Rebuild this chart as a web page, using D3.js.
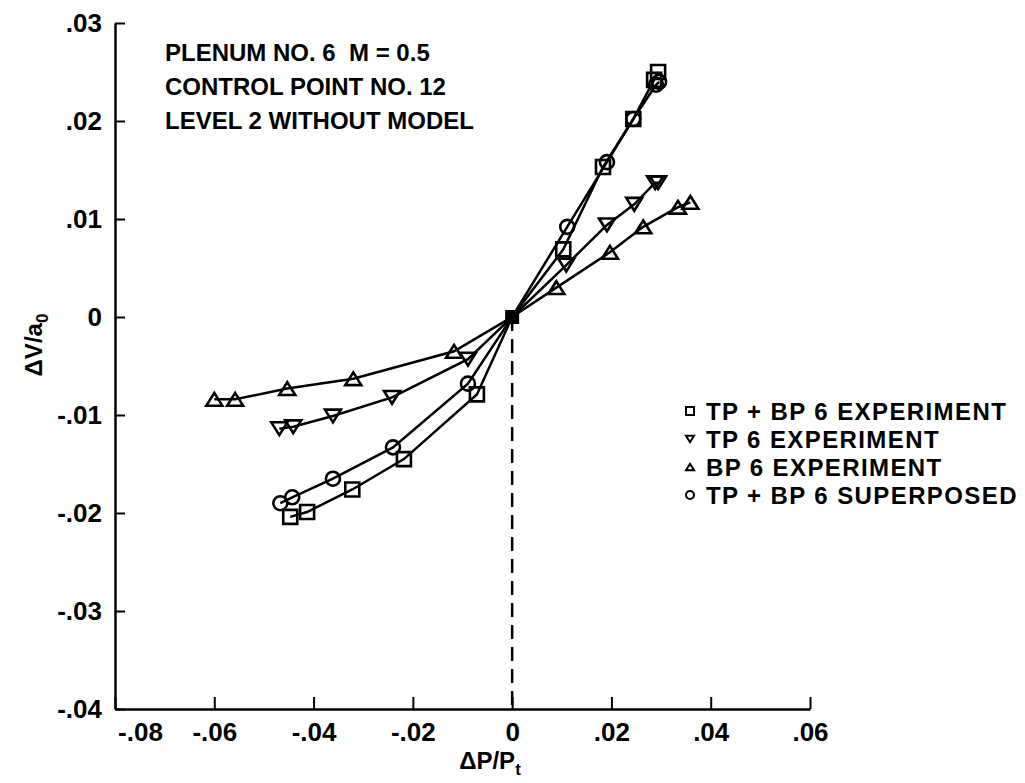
<!DOCTYPE html>
<html>
<head>
<meta charset="UTF-8" />
<script src="https://d3js.org/d3.v7.min.js"></script>
<style>
  body { margin: 0; background: #fff; }
  text { font-family: "Liberation Sans", Arial, sans-serif; font-weight: bold; fill: #000; }
</style>
</head>
<body>
<svg id="viz" width="1025" height="783"></svg>
<script>
// axis ticks
var xTicks = [-0.08, -0.06, -0.04, -0.02, 0, 0.02, 0.04, 0.06];
var xTickLabels = ["-.08", "-.06", "-.04", "-.02", "0", ".02", ".04", ".06"];
var yTicks = [0.03, 0.02, 0.01, 0, -0.01, -0.02, -0.03, -0.04];
var yTickLabels = [".03", ".02", ".01", "0", "-.01", "-.02", "-.03", "-.04"];

// TP + BP 6 experiment (squares)
var tpbpExpX = [-0.0447, -0.0413, -0.0322, -0.0218, -0.0071, 0, 0.0103, 0.0183, 0.0244, 0.0286, 0.0294];
var tpbpExpY = [-0.0204, -0.0199, -0.0176, -0.0145, -0.0079, 0, 0.0069, 0.0153, 0.0202, 0.0242, 0.0250];
// TP 6 experiment (down triangles)
var tpExpX = [-0.0469, -0.0441, -0.0361, -0.0242, -0.0089, 0, 0.0109, 0.0191, 0.0246, 0.0288, 0.0294];
var tpExpY = [-0.0114, -0.0112, -0.0101, -0.0082, -0.0043, 0, 0.0053, 0.0094, 0.0115, 0.0137, 0.0137];
// BP 6 experiment (up triangles)
var bpExpX = [-0.0600, -0.0558, -0.0453, -0.0320, -0.0117, 0, 0.0089, 0.0197, 0.0264, 0.0334, 0.0359];
var bpExpY = [-0.0084, -0.0084, -0.0073, -0.0063, -0.0035, 0, 0.0030, 0.0066, 0.0092, 0.0112, 0.0117];
// TP + BP 6 superposed (circles)
var tpbpSupX = [-0.0467, -0.0443, -0.0361, -0.0240, -0.0089, 0, 0.0111, 0.0191, 0.0244, 0.0290, 0.0296];
var tpbpSupY = [-0.0190, -0.0184, -0.0165, -0.0133, -0.0068, 0, 0.0092, 0.0158, 0.0202, 0.0237, 0.0240];

var seriesNames = ["TP + BP 6 EXPERIMENT", "TP 6 EXPERIMENT", "BP 6 EXPERIMENT", "TP + BP 6 SUPERPOSED"];
var seriesShapes = ["square", "down", "up", "circle"];
var noteLines = ["PLENUM NO. 6  M = 0.5", "CONTROL POINT NO. 12", "LEVEL 2 WITHOUT MODEL"];

var svg = d3.select("#viz");
var x = d3.scaleLinear().domain([-0.08, 0.06]).range([115, 810]);
var y = d3.scaleLinear().domain([-0.04, 0.03]).range([709, 23]);

function marker(shape, r) {
  if (shape == "square") return "M" + (-r) + "," + (-r) + "h" + 2 * r + "v" + 2 * r + "h" + (-2 * r) + "Z";
  if (shape == "circle") return "M" + (-r) + ",0a" + r + "," + r + " 0 1,0 " + 2 * r + ",0a" + r + "," + r + " 0 1,0 " + (-2 * r) + ",0Z";
  var h = r * 0.8;
  if (shape == "up") return "M0," + (-h) + "L" + r + "," + h + "L" + (-r) + "," + h + "Z";
  return "M0," + h + "L" + r + "," + (-h) + "L" + (-r) + "," + (-h) + "Z";
}
var markerSize = { square: 7, circle: 7, up: 8, down: 8 };

// y axis
var yAxis = d3.axisLeft(y).tickValues(yTicks)
  .tickFormat(function (d, i) { return yTickLabels[i]; })
  .tickSize(-10).tickSizeOuter(0).tickPadding(13);
var gy = svg.append("g").attr("transform", "translate(" + x(-0.08) + ",0)").call(yAxis);
gy.select(".domain").attr("stroke-width", 2.5);
gy.selectAll(".tick line").attr("stroke-width", 2);
gy.selectAll("text").style("font-size", "26px");

// x axis
var xAxis = d3.axisBottom(x).tickValues(xTicks)
  .tickFormat(function (d, i) { return xTickLabels[i]; })
  .tickSize(-12).tickSizeOuter(0).tickPadding(14);
var gx = svg.append("g").attr("transform", "translate(0," + y(-0.04) + ")").call(xAxis);
gx.select(".domain").attr("stroke-width", 2.5);
gx.selectAll(".tick line").attr("stroke-width", 2);
gx.selectAll("text").style("font-size", "26px").attr("dy", "0.71em");
gx.selectAll(".tick").filter(function (d) { return d == -0.08; }).select("text").attr("dx", 25);

// dashed zero line
svg.append("line")
  .attr("x1", x(0)).attr("x2", x(0))
  .attr("y1", y(0)).attr("y2", y(-0.04))
  .attr("stroke", "#000").attr("stroke-width", 2.5).attr("stroke-dasharray", "14,8");

var series = [
  { xs: tpbpExpX, ys: tpbpExpY },
  { xs: tpExpX, ys: tpExpY },
  { xs: bpExpX, ys: bpExpY },
  { xs: tpbpSupX, ys: tpbpSupY }
];

var line = d3.line().x(function (d) { return x(d[0]); }).y(function (d) { return y(d[1]); });

series.forEach(function (s, k) {
  var pts = s.xs.map(function (v, i) { return [v, s.ys[i]]; });
  svg.append("path").datum(pts).attr("d", line)
    .attr("fill", "none").attr("stroke", "#000").attr("stroke-width", 2.5);
  svg.selectAll(null).data(pts.filter(function (p) { return p[0] != 0; })).enter()
    .append("path")
    .attr("transform", function (d) { return "translate(" + x(d[0]) + "," + y(d[1]) + ")"; })
    .attr("d", marker(seriesShapes[k], markerSize[seriesShapes[k]]))
    .attr("fill", "none")
    .attr("stroke", "#000").attr("stroke-width", 2.6);
});

// origin point (all series overlap)
svg.append("path")
  .attr("transform", "translate(" + x(0) + "," + y(0) + ")")
  .attr("d", marker("square", 7)).attr("fill", "#000");

// note
svg.selectAll(".note").data(noteLines).enter().append("text")
  .attr("class", "note")
  .attr("x", 165).attr("y", function (d, i) { return 61 + i * 34; })
  .attr("xml:space", "preserve")
  .style("font-size", "24px").style("white-space", "pre")
  .text(function (d) { return d; });

// legend
var lg = svg.append("g").attr("transform", "translate(690,411)");
seriesNames.forEach(function (n, i) {
  lg.append("path").attr("transform", "translate(0," + i * 28 + ")")
    .attr("d", marker(seriesShapes[i], 4))
    .attr("fill", "none").attr("stroke", "#000").attr("stroke-width", 2);
  lg.append("text").attr("x", 16).attr("y", i * 28 + 9)
    .style("font-size", "24px").style("letter-spacing", "1.4px").text(n);
});

// axis titles
var xt = svg.append("text").attr("x", 490).attr("y", 769).attr("text-anchor", "middle").style("font-size", "24px");
xt.append("tspan").text("\u0394P/P");
xt.append("tspan").attr("dy", 6).style("font-size", "17px").text("t");

var yt = svg.append("text").attr("transform", "translate(42,345) rotate(-90)").attr("text-anchor", "middle").style("font-size", "24px");
yt.append("tspan").text("\u0394V/a");
yt.append("tspan").attr("dy", 6).style("font-size", "17px").text("0");
</script>
</body>
</html>
